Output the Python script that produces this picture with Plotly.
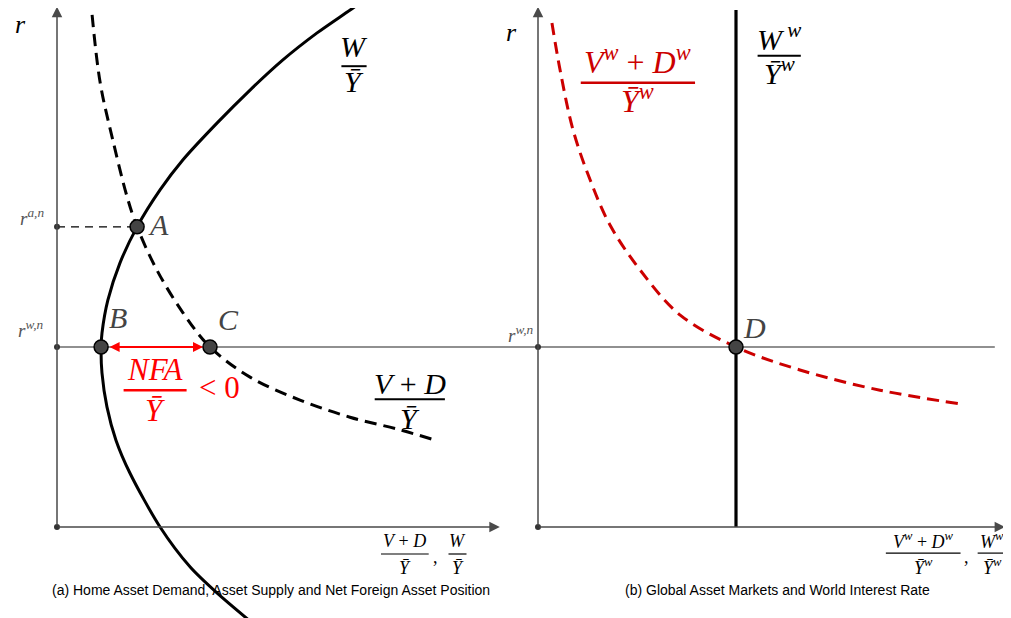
import plotly.graph_objects as go

# units: both panels share the r axis; each panel has its own horizontal axis
r_wn = 4.0   # world natural rate
r_an = 6.67  # autarky natural rate

# panel (a): home asset demand W/Y (solid) and asset supply (V+D)/Y (dashed)
home_W_x = [6.85, 6.67, 5.78, 5.02, 4.29, 3.56, 2.80, 2.29, 1.78, 1.40, 1.13, 1.00, 0.98,
            1.00, 1.11, 1.31, 1.62, 2.29, 2.96, 3.56, 4.30]
home_W_r = [11.75, 11.60, 10.98, 10.38, 9.71, 8.98, 8.16, 7.49, 6.67, 5.87, 5.04, 4.31, 4.00,
            3.42, 2.67, 1.93, 1.20, 0.00, -0.89, -1.47, -2.10]
home_VD_x = [0.78, 0.96, 1.24, 1.56, 1.78, 2.22, 2.80, 3.40, 4.29, 5.40, 6.51, 7.62, 8.40]
home_VD_r = [11.38, 9.87, 8.60, 7.33, 6.67, 5.71, 4.76, 4.00, 3.33, 2.82, 2.44, 2.16, 1.93]

# panel (b): world asset supply (red dashed) and world asset demand (vertical)
world_VD_x = [0.31, 0.49, 0.78, 1.16, 1.60, 2.27, 3.16, 4.40, 5.82, 7.60, 9.42]
world_VD_r = [11.20, 10.16, 8.82, 7.71, 6.71, 5.71, 4.71, 4.00, 3.49, 3.04, 2.73]
world_W_x = 4.40
world_W_rtop = 11.49

# equilibrium points
pt_A = (1.78, r_an)
pt_B = (0.98, r_wn)
pt_C = (3.40, r_wn)
pt_D = (world_W_x, r_wn)

# axis extents
left_x_end, right_x_end = 9.84, 10.38
y_top = 11.56
rate_line_end = 20.84  # in panel (a) units

SERIF = "Liberation Serif"
SANS = "Liberation Sans"
RED = "#cc0000"
GREY = "#444444"

fig = go.Figure()

# horizontal world-rate line across both panels
fig.add_trace(go.Scatter(x=[0, rate_line_end], y=[r_wn, r_wn], mode="lines",
                         line=dict(color="#222222", width=1.2)))
# dashed guide to A
fig.add_trace(go.Scatter(x=[0, pt_A[0]], y=[r_an, r_an], mode="lines",
                         line=dict(color="black", width=1.2, dash="8px,6px")))

# axis lines (drawn as annotation arrows)
for xref, xend in (("x", left_x_end), ("x2", right_x_end)):
    fig.add_annotation(x=xend, y=0, ax=0, ay=0, xref=xref, yref="y", axref=xref, ayref="y",
                       showarrow=True, arrowhead=2, arrowsize=1.4, arrowwidth=1.5,
                       arrowcolor="#4a4a4a", text="")
    fig.add_annotation(x=0, y=y_top, ax=0, ay=0, xref=xref, yref="y", axref=xref, ayref="y",
                       showarrow=True, arrowhead=2, arrowsize=1.4, arrowwidth=1.5,
                       arrowcolor="#4a4a4a", text="")

# curves
fig.add_trace(go.Scatter(x=home_W_x, y=home_W_r, mode="lines", line_shape="spline",
                         line=dict(color="black", width=3, smoothing=0.8)))
fig.add_trace(go.Scatter(x=home_VD_x, y=home_VD_r, mode="lines", line_shape="spline",
                         line=dict(color="black", width=3, dash="12px,7px")))
fig.add_trace(go.Scatter(x=world_VD_x, y=world_VD_r, mode="lines", line_shape="spline",
                         xaxis="x2", line=dict(color=RED, width=3, dash="12px,7px")))
fig.add_trace(go.Scatter(x=[world_W_x, world_W_x], y=[0, world_W_rtop], mode="lines",
                         xaxis="x2", line=dict(color="black", width=3.2)))

# NFA arrow B <-> C
fig.add_annotation(x=pt_C[0], y=pt_C[1], ax=pt_B[0], ay=pt_B[1], xref="x", yref="y",
                   axref="x", ayref="y", showarrow=True, arrowhead=2, arrowsize=1,
                   arrowwidth=2, arrowside="end+start", standoff=7, startstandoff=7,
                   arrowcolor="#ff0000", text="")

# small dots on the axes
fig.add_trace(go.Scatter(x=[0, 0, 0], y=[0, r_wn, r_an], mode="markers",
                         marker=dict(size=6, color="#333333")))
fig.add_trace(go.Scatter(x=[0, 0], y=[0, r_wn], mode="markers", xaxis="x2",
                         marker=dict(size=6, color="#333333")))

# equilibrium points
fig.add_trace(go.Scatter(x=[pt_A[0], pt_B[0], pt_C[0]], y=[pt_A[1], pt_B[1], pt_C[1]],
                         mode="markers",
                         marker=dict(size=14, color=GREY, line=dict(color="black", width=1.5))))
fig.add_trace(go.Scatter(x=[pt_D[0]], y=[pt_D[1]], mode="markers", xaxis="x2",
                         marker=dict(size=14, color=GREY, line=dict(color="black", width=1.5))))


def label(xref, x, y, text, size, color="black", family=SERIF, anchor="center"):
    fig.add_annotation(x=x, y=y, xref=xref, yref="y", text=text, showarrow=False,
                       xanchor=anchor, font=dict(family=family, size=size, color=color))


def frac(xref, x, y_num, y_bar, y_den, half, num, den, size, color="black", bw=2):
    label(xref, x, y_num, num, size, color)
    fig.add_shape(type="line", xref=xref, yref="y", x0=x - half, x1=x + half,
                  y0=y_bar, y1=y_bar, line=dict(color=color, width=bw))
    label(xref, x, y_den, den, size, color)


# axis titles r
label("x", -0.82, 11.17, "<i>r</i>", 26)
label("x2", -0.60, 11.00, "<i>r</i>", 26)

# tick labels on r axis
label("x", -0.25, 6.90, "<i>r</i><sup><i>a,n</i></sup>", 19, "#555555", anchor="right")
label("x", -0.25, 4.40, "<i>r</i><sup><i>w,n</i></sup>", 19, "#555555", anchor="right")
label("x2", -0.04, 4.30, "<i>r</i><sup><i>w,n</i></sup>", 19, "#555555", anchor="right")

# point labels
label("x", 2.26, 6.73, "<i>A</i>", 30, GREY)
label("x", 1.35, 4.66, "<i>B</i>", 30, GREY)
label("x", 3.82, 4.62, "<i>C</i>", 30, GREY)
label("x2", 4.82, 4.44, "<i>D</i>", 30, GREY)

# curve labels panel (a)
frac("x", 6.60, 10.67, 10.24, 9.91, 0.28, "<i>W</i>", "<i>Ȳ</i>", 30)
frac("x", 7.84, 3.20, 2.84, 2.42, 0.78, "<i>V</i> + <i>D</i>", "<i>Ȳ</i>", 30)
frac("x", 2.18, 3.49, 3.04, 2.60, 0.70, "<i>NFA</i>", "<i>Ȳ</i>", 31, "#ff0000", 2.5)
label("x", 3.62, 3.09, "&lt; 0", 31, "#ff0000")

# x-axis label panel (a)
frac("x", 7.73, -0.30, -0.60, -0.90, 0.53, "<i>V</i> + <i>D</i>", "<i>Ȳ</i>", 18, bw=1.2)
label("x", 8.40, -0.66, ",", 18)
frac("x", 8.90, -0.30, -0.60, -0.90, 0.20, "<i>W</i>", "<i>Ȳ</i>", 18, bw=1.2)

# curve labels panel (b)
frac("x2", 2.22, 10.38, 9.87, 9.52, 1.27,
     "<i>V</i><sup><i>w</i></sup> + <i>D</i><sup><i>w</i></sup>", "<i>Ȳ</i><sup><i>w</i></sup>",
     32, RED, 2.5)
frac("x2", 5.36, 10.89, 10.47, 10.14, 0.48,
     "<i>W</i><sup> <i>w</i></sup>", "<i>Ȳ</i><sup><i>w</i></sup>", 30)

# x-axis label panel (b)
frac("x2", 8.56, -0.30, -0.58, -0.88, 0.83,
     "<i>V</i><sup><i>w</i></sup> + <i>D</i><sup><i>w</i></sup>", "<i>Ȳ</i><sup><i>w</i></sup>",
     18, bw=1.2)
label("x2", 9.52, -0.66, ",", 18)
frac("x2", 10.09, -0.30, -0.58, -0.88, 0.32,
     "<i>W</i><sup><i>w</i></sup>", "<i>Ȳ</i><sup><i>w</i></sup>", 18, bw=1.2)

# captions
label("x", 4.76, -1.40, "(a) Home Asset Demand, Asset Supply and Net Foreign Asset Position",
      14, family=SANS)
label("x2", 5.33, -1.40, "(b) Global Asset Markets and World Interest Rate", 14, family=SANS)

# page body has an 8px margin, so the figure is drawn 8px in from the window corner
fig.update_layout(
    width=1003, height=610,
    margin=dict(l=0, r=0, t=0, b=0),
    paper_bgcolor="white", plot_bgcolor="white",
    showlegend=False,
    xaxis=dict(range=[-49 / 45, 954 / 45], visible=False, fixedrange=True),
    xaxis2=dict(range=[-530 / 45, 473 / 45], visible=False, overlaying="x", anchor="y",
                fixedrange=True),
    yaxis=dict(range=[-91 / 45, 519 / 45], visible=False, fixedrange=True),
)

fig.write_html("out.html")
